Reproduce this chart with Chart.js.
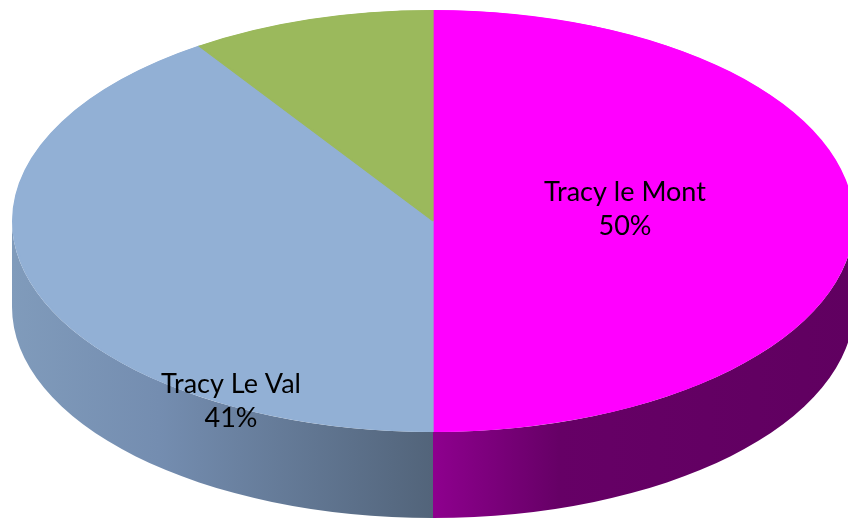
<!DOCTYPE html>
<html>
<head>
<meta charset="utf-8">
<title>Tracy</title>
<script src="https://cdn.jsdelivr.net/npm/chart.js@4"></script>
<style>
    html, body { margin: 0; padding: 0; background: #fff; overflow: hidden; }
    canvas { display: block; filter: blur(0.4px); }
</style>
</head>
<body>
<canvas id="pieChart" width="848" height="518"></canvas>
<script>
// Data
const categories = ['Tracy le Mont', 'Tracy Le Val', ''];
const shares = [50, 40.6, 9.4];
const topColors = ['#ff00ff', '#92b0d5', '#9bb95c'];

// Side wall shades, left to right
const sideStops = [
    [[0, '#8e008e'], [0.3, '#660066'], [1, '#600060']],
    [[0, '#809bbb'], [0.35, '#748db0'], [1, '#52647a']],
    [[0, '#7c944a'], [1, '#7c944a']]
];

// Pie look
const squashX = 421 / 211;   // the top face is an ellipse, wider than tall
const depth = 86;

// Hand placed data labels, relative to the pie centre
const labelOffsets = [[192, -12], [-202, 180], null];

const fakePie3d = {
    id: 'fakePie3d',
    beforeDatasetsDraw(chart) {
        const ctx = chart.ctx;
        const arcs = chart.getDatasetMeta(0).data;

        // side wall of the slices facing the viewer
        arcs.forEach((arc, i) => {
            const cx = arc.x, cy = arc.y;
            const ry = arc.outerRadius, rx = ry * squashX;
            const start = Math.max(arc.startAngle, 0);
            const end = Math.min(arc.endAngle, Math.PI);
            if (end <= start) return;

            const xa = cx + rx * Math.cos(start);
            const xb = cx + rx * Math.cos(end);
            const grad = ctx.createLinearGradient(Math.min(xa, xb), 0, Math.max(xa, xb), 0);
            sideStops[i].forEach(s => grad.addColorStop(s[0], s[1]));

            ctx.save();
            ctx.fillStyle = grad;
            ctx.beginPath();
            ctx.ellipse(cx, cy, rx, ry, 0, start, end);
            ctx.ellipse(cx, cy + depth, rx, ry, 0, end, start, true);
            ctx.closePath();
            ctx.fill();
            ctx.restore();
        });

        // the library draws a round pie, stretch it into the ellipse
        const c = arcs[0];
        ctx.save();
        ctx.translate(c.x, c.y);
        ctx.scale(squashX, 1);
        ctx.translate(-c.x, -c.y);
    },
    afterDatasetsDraw(chart) {
        const ctx = chart.ctx;
        ctx.restore();

        const arcs = chart.getDatasetMeta(0).data;
        const total = shares.reduce((a, b) => a + b, 0);
        ctx.save();
        ctx.font = '27px Lato, "Open Sans", sans-serif';
        ctx.fillStyle = '#000';
        ctx.textAlign = 'center';
        ctx.textBaseline = 'middle';
        labelOffsets.forEach((off, i) => {
            if (!off) return;
            const x = arcs[i].x + off[0], y = arcs[i].y + off[1];
            ctx.fillText(categories[i], x, y - 17);
            ctx.fillText(Math.round(shares[i] / total * 100) + '%', x, y + 17);
        });
        ctx.restore();
    }
};

new Chart(document.getElementById('pieChart').getContext('2d'), {
    type: 'pie',
    data: {
        labels: categories,
        datasets: [{
            data: shares,
            backgroundColor: topColors,
            borderColor: topColors,
            borderWidth: 1,
            borderAlign: 'inner'
        }]
    },
    options: {
        responsive: false,
        animation: false,
        events: [],
        layout: { padding: { left: 18, right: 0, top: 10, bottom: 86 } },
        plugins: {
            legend: { display: false },
            tooltip: { enabled: false }
        }
    },
    plugins: [fakePie3d]
});
</script>
</body>
</html>
